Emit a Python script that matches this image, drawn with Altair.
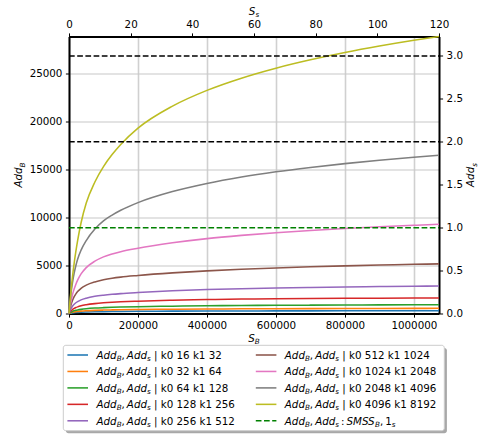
import altair as alt
import pandas as pd

# ---------------- data ----------------
s_b = [0, 2500, 5000, 10000, 15000, 20000, 25000, 35000, 50000, 75000, 100000, 125000,
       150000, 200000, 300000, 400000, 500000, 600000, 700000, 800000, 900000, 1000000, 1072800]

k0_values = [16, 32, 64, 128, 256, 512, 1024, 2048, 4096]
k1_values = [32, 64, 128, 256, 512, 1024, 2048, 4096, 8192]

add_b_k0_16 = [0, 20, 38, 65, 85, 100, 112, 132, 152, 176, 192, 204,
               213, 227, 245, 257, 265, 271, 276, 280, 284, 287, 289]
add_b_k0_32 = [0, 40, 75, 125, 160, 190, 212, 248, 285, 328, 355, 375,
               392, 415, 445, 468, 485, 498, 508, 517, 525, 532, 538]
add_b_k0_64 = [0, 75, 130, 215, 280, 330, 370, 430, 495, 565, 610, 645,
               670, 710, 765, 805, 835, 855, 870, 885, 898, 910, 918]
add_b_k0_128 = [0, 140, 250, 410, 530, 620, 690, 800, 910, 1030, 1110, 1170,
                1215, 1280, 1380, 1450, 1500, 1535, 1560, 1580, 1595, 1610, 1620]
add_b_k0_256 = [0, 250, 450, 750, 960, 1120, 1240, 1420, 1600, 1790, 1910, 2000,
                2070, 2180, 2360, 2490, 2585, 2655, 2710, 2760, 2805, 2840, 2865]
add_b_k0_512 = [0, 450, 800, 1350, 1750, 2050, 2280, 2620, 2950, 3290, 3510, 3670,
                3790, 3960, 4230, 4440, 4600, 4740, 4860, 4960, 5050, 5120, 5170]
add_b_k0_1024 = [0, 600, 1100, 1950, 2550, 3050, 3470, 4120, 4780, 5450, 5900, 6200,
                 6440, 6800, 7360, 7800, 8135, 8410, 8645, 8845, 9025, 9185, 9290]
add_b_k0_2048 = [0, 1000, 1850, 3200, 4200, 5000, 5650, 6600, 7600, 8800, 9650, 10250,
                 10750, 11550, 12700, 13550, 14220, 14760, 15210, 15610, 15960, 16270, 16480]
add_b_k0_4096 = [0, 1100, 2100, 3800, 5250, 6500, 7600, 9450, 11500, 13700, 15300, 16550,
                 17600, 19300, 21600, 23240, 24510, 25550, 26420, 27180, 27850, 28450, 28850]

series_add_b = [add_b_k0_16, add_b_k0_32, add_b_k0_64, add_b_k0_128, add_b_k0_256,
                add_b_k0_512, add_b_k0_1024, add_b_k0_2048, add_b_k0_4096]
series_colors = ["#1f77b4", "#ff7f0e", "#2ca02c", "#d62728", "#9467bd",
                 "#8c564b", "#e377c2", "#7f7f7f", "#bcbd22"]

SMSS_B = 8940            # one S_s / Add_s unit expressed in S_B / Add_B
s_b_max = 1072800
add_b_max = 28850
s_s_max = s_b_max / SMSS_B
add_s_max = add_b_max / SMSS_B

s_b_ticks = [0, 200000, 400000, 600000, 800000, 1000000]
add_b_ticks = [0, 5000, 10000, 15000, 20000, 25000]
s_s_ticks = [0, 20, 40, 60, 80, 100, 120]
add_s_ticks = [0.0, 0.5, 1.0, 1.5, 2.0, 2.5, 3.0]

limit_levels = [2, 3]    # black dashed, in Add_s
smss_level = 1           # green dashed, in Add_s

# ---------------- layout ----------------
LEFT, TOP = 69, 36.5
W, H = 370, 277
FONT = "DejaVu Sans"
MAIN, SUB, SUB_DROP = 10.3, 7.2, 2.3
EM = {"A": 0.684, "d": 0.635, "S": 0.635, "M": 0.863, "B": 0.686, "s": 0.521,
      ",": 0.318, ":": 0.337, "1": 0.636, " ": 0.318, "m": 0.974}
THIN = 0.2 * EM["m"] * MAIN


def lay_out(tokens, start, base, vertical=False):
    """Place mathtext-like pieces (italic, subscript, roman) along a line."""
    pieces, pos = [], 0.0
    for text, kind in tokens:
        if kind == "thin":
            pos += THIN
            continue
        if kind == "space":
            pos += EM[" "] * MAIN
            continue
        size = SUB if kind == "sub" else MAIN
        drop = SUB_DROP if kind == "sub" else 0.0
        if vertical:
            px, py, ang = base + drop, start - pos, 270
        else:
            px, py, ang = start + pos, base + drop, 0
        pieces.append({"px": px - LEFT, "py": py - TOP, "text": text, "size": size,
                       "italic": kind in ("it", "sub"), "angle": ang})
        pos += sum(EM.get(c, 0.636) for c in text) * size
    return pieces


def width_of(tokens):
    w = 0.0
    for text, kind in tokens:
        if kind == "thin":
            w += THIN
        elif kind == "space":
            w += EM[" "] * MAIN
        else:
            w += sum(EM.get(c, 0.636) for c in text) * (SUB if kind == "sub" else MAIN)
    return w


# ---------------- curves ----------------
rows = []
for i, vals in enumerate(series_add_b):
    for sb, ab in zip(s_b, vals):
        rows.append({"S_B": sb, "Add_B": ab, "series": i, "color": series_colors[i]})
curves_df = pd.DataFrame(rows)

tick_style = dict(tickSize=3.6, tickWidth=1, tickColor="black", domainColor="black",
                  domainWidth=2, labelFont=FONT, labelFontSize=10.3, labelColor="black",
                  labelPadding=3.5, labelFlush=False, labelOverlap=False, title=None)

curves = alt.Chart(curves_df).mark_line(strokeWidth=1.55, interpolate="monotone").encode(
    x=alt.X("S_B:Q", scale=alt.Scale(domain=[0, s_b_max], nice=False, zero=False),
            axis=alt.Axis(orient="bottom", values=s_b_ticks, format="d", grid=True,
                          gridColor="#d0d0d0", gridWidth=1.6, **tick_style)),
    y=alt.Y("Add_B:Q", scale=alt.Scale(domain=[0, add_b_max], nice=False, zero=False),
            axis=alt.Axis(orient="left", values=add_b_ticks, format="d", grid=True,
                          gridColor="#c8c8c8", gridWidth=1.2, **tick_style)),
    color=alt.Color("color:N", scale=None),
    detail="series:N",
)

# ---------------- reference levels on the S_s / Add_s axes ----------------
lvl_rows = []
for lv in limit_levels:
    for ss in (0, s_s_max):
        lvl_rows.append({"S_s": ss, "Add_s": lv, "level": f"L{lv}", "color": "black"})
for ss in (0, s_s_max):
    lvl_rows.append({"S_s": ss, "Add_s": smss_level, "level": "SMSS", "color": "#008000"})
levels_df = pd.DataFrame(lvl_rows)

levels = alt.Chart(levels_df).mark_line(strokeWidth=1.55, strokeDash=[5.7, 2.5]).encode(
    x=alt.X("S_s:Q", scale=alt.Scale(domain=[0, s_s_max], nice=False, zero=False),
            axis=alt.Axis(orient="top", values=s_s_ticks, format="d", grid=False, **tick_style)),
    y=alt.Y("Add_s:Q", scale=alt.Scale(domain=[0, add_s_max], nice=False, zero=False),
            axis=alt.Axis(orient="right", values=add_s_ticks, format=".1f", grid=False, **tick_style)),
    color=alt.Color("color:N", scale=None),
    detail="level:N",
)


# ---------------- overlay: legend and axis titles (pixel scales) ----------------
def ox(field):
    return alt.X(f"{field}:Q", scale=alt.Scale(domain=[0, W], nice=False, zero=False), axis=None)


def oy(field):
    return alt.Y(f"{field}:Q", scale=alt.Scale(domain=[0, H], nice=False, zero=False, reverse=True),
                 axis=None)


legend_frame = {"x": 63.3, "x2": 444.3, "y": 345.3, "y2": 430.7}
shadow_off = 2.6
row_y0, row_step = 355.0, 16.45
col_handle = [(67.4, 88.0), (255.8, 276.4)]
col_text = [96.5, 284.8]

head = [("Add", "it"), ("B", "sub"), (",", "rm"), (None, "thin"), ("Add", "it"), ("s", "sub")]
entries = []
for i, (a, b) in enumerate(zip(k0_values, k1_values)):
    entries.append({"tokens": head + [(None, "space"), (f"| k0 {a} k1 {b}", "rm")],
                    "color": series_colors[i], "dashed": False})
entries.append({"tokens": head + [(None, "thin"), (":", "rm"), (None, "thin"), ("SMSS", "it"),
                                  ("B", "sub"), (",", "rm"), (None, "thin"), ("1", "rm"), ("s", "sub")],
                "color": "#008000", "dashed": True})

pieces, handles = [], []
for j, e in enumerate(entries):
    col, row = j // 5, j % 5
    yc = row_y0 + row * row_step
    pieces += lay_out(e["tokens"], col_text[col], yc + 3.8)
    h0, h1 = col_handle[col]
    handles.append({"x": h0 - LEFT, "x2": h1 - LEFT, "y": yc - TOP,
                    "color": e["color"], "dashed": e["dashed"]})

# axis titles
ss_tok = [("S", "it"), ("s", "sub")]
sb_tok = [("S", "it"), ("B", "sub")]
ab_tok = [("Add", "it"), ("B", "sub")]
as_tok = [("Add", "it"), ("s", "sub")]
cx, cy = LEFT + W / 2, TOP + H / 2
pieces += lay_out(ss_tok, cx - width_of(ss_tok) / 2, 15.0)
pieces += lay_out(sb_tok, cx - width_of(sb_tok) / 2, 342.0)
pieces += lay_out(ab_tok, cy + width_of(ab_tok) / 2, 22.3, vertical=True)
pieces += lay_out(as_tok, cy + width_of(as_tok) / 2, 474.3, vertical=True)

pieces_df = pd.DataFrame(pieces)
handles_df = pd.DataFrame(handles)
frame_df = pd.DataFrame([{k: (v - LEFT if k.startswith("x") else v - TOP)
                          for k, v in legend_frame.items()}])
shadow_df = frame_df.copy()
for k in ("x", "x2"):
    shadow_df[k] += shadow_off
for k in ("y", "y2"):
    shadow_df[k] += shadow_off

shadow = alt.Chart(shadow_df).mark_rect(fill="#a8a8a8", cornerRadius=2.5).encode(
    x=ox("x"), x2="x2:Q", y=oy("y"), y2="y2:Q")
frame = alt.Chart(frame_df).mark_rect(fill="white", stroke="#cccccc", strokeWidth=1,
                                      cornerRadius=2.5).encode(
    x=ox("x"), x2="x2:Q", y=oy("y"), y2="y2:Q")
solid_handles = alt.Chart(handles_df[~handles_df["dashed"]]).mark_rule(strokeWidth=1.55).encode(
    x=ox("x"), x2="x2:Q", y=oy("y"), color=alt.Color("color:N", scale=None))
dashed_handles = alt.Chart(handles_df[handles_df["dashed"]]).mark_rule(
    strokeWidth=1.55, strokeDash=[5.7, 2.5]).encode(
    x=ox("x"), x2="x2:Q", y=oy("y"), color=alt.Color("color:N", scale=None))


def text_layer(df, italic):
    style = {"fontStyle": "italic"} if italic else {}
    return alt.Chart(df).mark_text(align="left", baseline="alphabetic", font=FONT,
                                   color="black", **style).encode(
        x=ox("px"), y=oy("py"), text="text:N",
        size=alt.Size("size:Q", scale=None),
        angle=alt.Angle("angle:Q", scale=None),
    )


italic_text = text_layer(pieces_df[pieces_df["italic"]], True)
roman_text = text_layer(pieces_df[~pieces_df["italic"]], False)

chart = alt.layer(
    curves, levels, shadow, frame, solid_handles, dashed_handles, italic_text, roman_text
).resolve_scale(
    x="independent", y="independent"
).properties(
    width=W, height=H,
    padding={"left": LEFT, "top": TOP, "right": 478 - LEFT - W, "bottom": 434 - TOP - H},
    autosize=alt.AutoSizeParams(type="none"),
    background="white",
).configure_view(stroke=None)

chart.save("out.html", embed_options={"renderer": "svg", "actions": False})
